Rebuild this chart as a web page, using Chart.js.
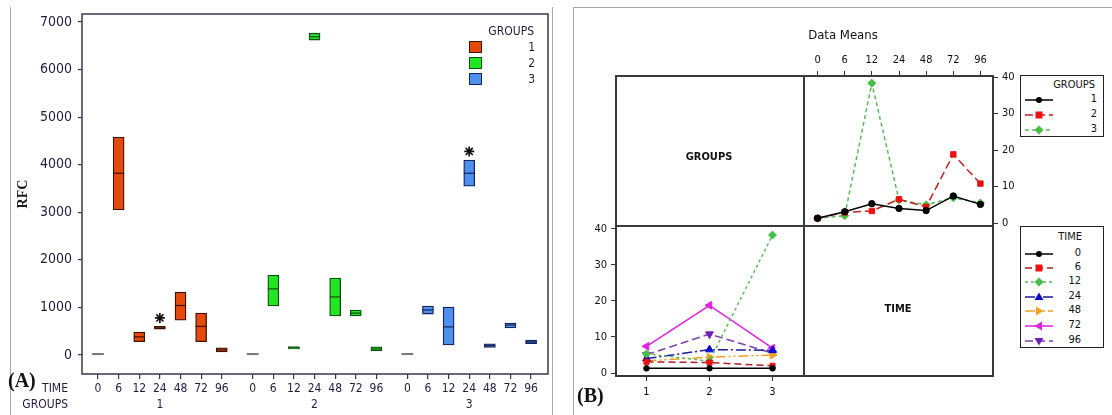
<!DOCTYPE html>
<html><head><meta charset="utf-8">
<script src="https://cdn.jsdelivr.net/npm/chart.js@4.4.1/dist/chart.umd.min.js"></script>
<style>
html,body{margin:0;padding:0;background:#fff;}
#wrap{position:relative;width:1112px;height:415px;overflow:hidden;background:#fff;}
canvas{position:absolute;}
.abs{position:absolute;white-space:nowrap;line-height:1;}
.ln{position:absolute;}
</style></head>
<body><div id="wrap">
<canvas id="cA" width="560" height="415" style="left:0;top:0"></canvas>
<canvas id="cB1" width="250" height="200" style="left:790px;top:40px"></canvas>
<canvas id="cB2" width="260" height="195" style="left:560px;top:215px"></canvas>
</div>
<script>
// ---------------- DATA ----------------
const timeLabels = ['0','6','12','24','48','72','96'];
const groupLabels = ['1','2','3'];
const rfcTicks = [0,1000,2000,3000,4000,5000,6000,7000];
const meansTicks = [0,10,20,30,40];

// Panel A: box statistics (RFC) per time, for each group
const q1G1  = [5, 3050, 280, 545, 730, 280, 65];
const medG1 = [20, 3820, 380, 570, 1040, 600, 105];
const q3G1  = [35, 4580, 480, 600, 1320, 880, 150];

const q1G2  = [5, 1030, 125, 6620, 820, 820, 84];
const medG2 = [20, 1390, 150, 6690, 1220, 880, 126];
const q3G2  = [35, 1680, 175, 6765, 1617, 945, 170];

const q1G3  = [5, 860, 210, 3550, 160, 567, 240];
const medG3 = [20, 945, 590, 3820, 195, 630, 275];
const q3G3  = [35, 1030, 1008, 4097, 235, 672, 315];

// outliers (asterisks)
const outlierGroup = ['1', '3'];
const outlierTime = ['24', '24'];
const outlierRFC = [778, 4278];

// Panel B: data means per time, for each group
const meansG1 = [1.3, 3.1, 5.3, 4.0, 3.4, 7.4, 5.1];
const meansG2 = [1.3, 2.9, 3.3, 6.5, 4.4, 18.8, 10.8];
const meansG3 = [1.3, 2.0, 38.3, 6.3, 5.0, 6.9, 5.5];

// ---------------- STYLE ----------------
const FONT = "'DejaVu Sans Condensed','DejaVu Sans',sans-serif";
const SERIF = "'Liberation Serif','DejaVu Serif',serif";
const INK_A = '#241c3c';
const FRAME_A = '#3d3550';
const wrap = document.getElementById('wrap');

function zeroPad(s){ s.paddingLeft = 0; s.paddingRight = 0; s.paddingTop = 0; s.paddingBottom = 0; }
function txt(s, x, y, align, font, color){
  const d = document.createElement('div');
  d.className = 'abs'; d.textContent = s;
  const tx = align === 'center' ? '-50%' : (align === 'right' ? '-100%' : '0');
  d.style.left = x + 'px'; d.style.top = y + 'px';
  d.style.transform = 'translate(' + tx + ',-50%)';
  d.style.font = font; d.style.color = color || '#222';
  wrap.appendChild(d); return d;
}
function box(x, y, w, h, css){
  const d = document.createElement('div');
  d.className = 'ln';
  d.style.cssText = 'left:' + x + 'px;top:' + y + 'px;width:' + w + 'px;height:' + h + 'px;' + (css || '');
  wrap.appendChild(d); return d;
}

// ---------------- PANEL A ----------------
const groupsA = [
  {q1:q1G1, med:medG1, q3:q3G1, fill:'#E6490C', edge:'#3e1204'},
  {q1:q1G2, med:medG2, q3:q3G2, fill:'#22E622', edge:'#114e11'},
  {q1:q1G3, med:medG3, q3:q3G3, fill:'#4F8FEF', edge:'#14245c'}
];
const GROUP_STEP = 7.5;
const xPos = (gi, ti) => ti + GROUP_STEP * gi;
const xTickPos = [];
groupLabels.forEach((g, gi) => timeLabels.forEach((t, ti) => xTickPos.push(xPos(gi, ti))));

const datasetsA = [];
groupsA.forEach((g, gi) => {
  datasetsA.push({
    type: 'bar',
    label: 'GROUPS ' + groupLabels[gi],
    data: timeLabels.map((t, ti) => ({x: xPos(gi, ti), y: [g.q1[ti], g.q3[ti]]})),
    backgroundColor: c => c.dataIndex === 0 ? '#7a7a7a' : g.fill,
    borderColor: c => c.dataIndex === 0 ? '#7a7a7a' : g.edge,
    borderWidth: c => c.dataIndex === 0 ? 0 : 1.3,
    borderSkipped: false,
    barThickness: 11,
    grouped: false,
    order: 3
  });
  datasetsA.push({
    type: 'scatter',
    label: 'median ' + groupLabels[gi],
    data: timeLabels.map((t, ti) => ({x: xPos(gi, ti), y: g.med[ti]})),
    pointStyle: 'line',
    pointRadius: c => c.dataIndex === 0 ? 0 : 5.5,
    pointHoverRadius: 0,
    borderColor: g.edge,
    pointBorderColor: g.edge,
    pointBorderWidth: 1.2,
    order: 2
  });
});
datasetsA.push({
  type: 'scatter',
  label: 'outliers',
  data: outlierRFC.map((v, i) => ({x: xPos(groupLabels.indexOf(outlierGroup[i]), timeLabels.indexOf(outlierTime[i])), y: v})),
  pointStyle: 'star',
  pointRadius: 5,
  pointBorderColor: '#111',
  pointBorderWidth: 1.7,
  order: 1
});

const frameA = {
  id: 'frameA',
  afterDraw(c){
    const {ctx, chartArea: a} = c;
    ctx.save(); ctx.strokeStyle = FRAME_A; ctx.lineWidth = 1.5;
    ctx.strokeRect(a.left, a.top, a.right - a.left, a.bottom - a.top);
    ctx.restore();
  }
};

const chartA = new Chart(document.getElementById('cA'), {
  type: 'bar',
  data: {datasets: datasetsA},
  options: {
    responsive: false, animation: false, events: [],
    layout: {padding: {left: 10, top: 14, right: 12, bottom: 0}},
    plugins: {legend: {display: false}, tooltip: {enabled: false}},
    scales: {
      x: {
        type: 'linear', min: -0.776, max: 21.82, offset: false,
        afterBuildTicks: s => { s.ticks = xTickPos.map(v => ({value: v})); },
        afterFit: s => { s.height = 41; zeroPad(s); },
        grid: {drawOnChartArea: false, drawTicks: true, tickLength: 5, color: FRAME_A, lineWidth: 1.2, offset: false},
        border: {display: false},
        ticks: {autoSkip: false, maxRotation: 0, padding: 3, color: INK_A,
                font: {family: FONT, size: 12},
                callback: (v, i) => timeLabels[i % timeLabels.length]}
      },
      y: {
        type: 'linear', min: -400, max: 7168,
        afterBuildTicks: s => { s.ticks = rfcTicks.map(v => ({value: v})); },
        afterFit: s => { s.width = 72; zeroPad(s); },
        grid: {drawOnChartArea: false, drawTicks: true, tickLength: 4, color: FRAME_A, lineWidth: 1.2},
        border: {display: false},
        title: {display: true, text: 'RFC', color: '#1a1a1a', padding: {top: 5, bottom: 0},
                font: {family: SERIF, size: 14, weight: 'bold'}},
        ticks: {padding: 6, color: INK_A, font: {family: FONT, size: 14},
                callback: v => String(v)}
      }
    }
  },
  plugins: [frameA]
});

// ---------------- PANEL B ----------------
const groupSeries = [
  {data: meansG1, line: '#000000', mark: '#000000', dash: [], style: 'circle', rot: 0, r: 3.2},
  {data: meansG2, line: '#c02020', mark: '#ee1010', dash: [8, 4], style: 'rect', rot: 0, r: 3.8},
  {data: meansG3, line: '#5cb85c', mark: '#45c045', dash: [4, 3], style: 'rectRot', rot: 0, r: 4}
];
const timeSeries = [
  {line: '#000000', mark: '#000000', dash: [], style: 'circle', rot: 0, r: 2.8},
  {line: '#b02020', mark: '#ee1010', dash: [7, 4], style: 'rect', rot: 0, r: 3.6},
  {line: '#5cb85c', mark: '#45c045', dash: [3, 3], style: 'rectRot', rot: 0, r: 4},
  {line: '#1a1a9a', mark: '#0a0ad0', dash: [10, 3, 2, 3], style: 'triangle', rot: 0, r: 4.5},
  {line: '#f0a020', mark: '#f0a020', dash: [10, 3, 2, 3, 2, 3], style: 'triangle', rot: 90, r: 4.5},
  {line: '#e020e0', mark: '#e020e0', dash: [], style: 'triangle', rot: -90, r: 4.5},
  {line: '#8040b0', mark: '#7020b0', dash: [8, 4], style: 'triangle', rot: 180, r: 4.5}
];
const allMeans = [meansG1, meansG2, meansG3];

function lineDs(label, data, s){
  return {label, data, borderColor: s.line, borderWidth: 1.5, borderDash: s.dash, tension: 0,
          pointStyle: s.style, pointRotation: s.rot, pointRadius: s.r, pointHoverRadius: s.r,
          pointBackgroundColor: s.mark, pointBorderColor: s.mark, pointBorderWidth: 1, fill: false};
}
const tickFontB = {family: FONT, size: 11};
const INK_B = '#111';

new Chart(document.getElementById('cB1'), {
  type: 'line',
  data: {labels: timeLabels,
         datasets: groupSeries.map((s, gi) => lineDs(groupLabels[gi], s.data, s))},
  options: {
    responsive: false, animation: false, events: [],
    layout: {padding: {left: 14, top: 10, right: 16, bottom: 14}},
    plugins: {legend: {display: false}, tooltip: {enabled: false}},
    scales: {
      x: {type: 'category', position: 'top', offset: true,
          afterFit: s => { s.height = 25; zeroPad(s); },
          grid: {drawOnChartArea: false, tickLength: 4, color: '#333', offset: false},
          border: {display: false},
          ticks: {autoSkip: false, maxRotation: 0, padding: 4, color: INK_B, font: tickFontB}},
      y: {type: 'linear', position: 'right', min: -0.82, max: 40.55,
          afterBuildTicks: s => { s.ticks = meansTicks.map(v => ({value: v})); },
          afterFit: s => { s.width = 30; zeroPad(s); },
          grid: {drawOnChartArea: false, tickLength: 4, color: '#333'},
          border: {display: false},
          ticks: {padding: 4, color: INK_B, font: tickFontB}}
    }
  }
});

new Chart(document.getElementById('cB2'), {
  type: 'line',
  data: {labels: groupLabels,
         datasets: timeSeries.map((s, ti) => lineDs(timeLabels[ti], allMeans.map(m => m[ti]), s))},
  options: {
    responsive: false, animation: false, events: [],
    layout: {padding: {left: 15, top: 11, right: 16, bottom: 3}},
    plugins: {legend: {display: false}, tooltip: {enabled: false}},
    scales: {
      x: {type: 'category', position: 'bottom', offset: true,
          afterFit: s => { s.height = 30; zeroPad(s); },
          grid: {drawOnChartArea: false, tickLength: 4, color: '#333', offset: false},
          border: {display: false},
          ticks: {autoSkip: false, maxRotation: 0, padding: 5, color: INK_B, font: tickFontB}},
      y: {type: 'linear', position: 'left', min: -1.11, max: 40.83,
          afterBuildTicks: s => { s.ticks = meansTicks.map(v => ({value: v})); },
          afterFit: s => { s.width = 40; zeroPad(s); },
          grid: {drawOnChartArea: false, tickLength: 4, color: '#333'},
          border: {display: false},
          ticks: {padding: 4, color: INK_B, font: tickFontB}}
    }
  }
});

// ---------------- DECORATION / TEXT ----------------
// panel borders
box(10, 7, 1, 408, 'background:#a8a8a8');
box(552, 7, 1, 408, 'background:#a8a8a8');
box(573, 7, 1, 408, 'background:#a8a8a8');
box(573, 7, 539, 1, 'background:#a8a8a8');

// panel A labels
txt('(A)', 8, 380, 'left', 'bold 20px ' + SERIF, '#111');
txt('TIME', 68, 388, 'right', '12px ' + FONT, INK_A);
txt('GROUPS', 68, 404, 'right', '12px ' + FONT, INK_A);
groupLabels.forEach((g, gi) => {
  const px = chartA.scales.x.getPixelForValue(xPos(gi, 3));
  txt(g, px, 404, 'center', '12px ' + FONT, INK_A);
});
// panel A legend
txt('GROUPS', 534, 31, 'right', '12px ' + FONT, INK_A);
groupsA.forEach((g, gi) => {
  const top = [41, 57, 73][gi];
  box(469, top, 13, 12, 'box-sizing:border-box;background:' + g.fill + ';border:1.5px solid ' + g.edge);
  txt(groupLabels[gi], 535, top + 6, 'right', '12px ' + FONT, INK_A);
});

// panel B matrix frame
box(615, 75, 379, 302, 'box-sizing:border-box;border:2px solid #3a3a3a');
box(803, 75, 2, 302, 'background:#3a3a3a');
box(615, 225, 379, 2, 'background:#3a3a3a');
txt('Data Means', 843, 34, 'center', '13px ' + FONT, '#111');
txt('GROUPS', 709, 156, 'center', 'bold 11px ' + FONT, '#111');
txt('TIME', 898, 308, 'center', 'bold 11px ' + FONT, '#111');
txt('(B)', 577, 395, 'left', 'bold 20px ' + SERIF, '#111');

// legend samples
function markerSvg(style, rot, cx, cy, col){
  if (style === 'circle') return '<circle cx="' + cx + '" cy="' + cy + '" r="3" fill="' + col + '"/>';
  if (style === 'rect') return '<rect x="' + (cx - 3.5) + '" y="' + (cy - 3.5) + '" width="7" height="7" fill="' + col + '"/>';
  if (style === 'rectRot') return '<polygon points="' + cx + ',' + (cy - 4.5) + ' ' + (cx + 4.5) + ',' + cy + ' ' + cx + ',' + (cy + 4.5) + ' ' + (cx - 4.5) + ',' + cy + '" fill="' + col + '"/>';
  return '<polygon transform="rotate(' + rot + ' ' + cx + ' ' + cy + ')" points="' + cx + ',' + (cy - 4.5) + ' ' + (cx + 4.5) + ',' + (cy + 3) + ' ' + (cx - 4.5) + ',' + (cy + 3) + '" fill="' + col + '"/>';
}
function legendBox(x, y, w, h, title, titleRight, titleY, entries, labels, rows, labelRight){
  box(x, y, w, h, 'box-sizing:border-box;border:1.5px solid #222;background:#fff');
  txt(title, x + titleRight, y + titleY, 'right', '11px ' + FONT, '#111');
  entries.forEach((s, i) => {
    const cy = y + rows[i];
    const d = document.createElement('div');
    d.className = 'ln';
    d.style.cssText = 'left:' + (x + 5) + 'px;top:' + (cy - 6) + 'px;width:28px;height:12px;';
    d.innerHTML = '<svg width="28" height="12" xmlns="http://www.w3.org/2000/svg"><line x1="0" y1="6" x2="28" y2="6" stroke="' + s.line +
      '" stroke-width="1.5" stroke-dasharray="' + (s.dash.length ? s.dash.join(',') : 'none') + '"/>' + markerSvg(s.style, s.rot, 14, 6, s.mark) + '</svg>';
    wrap.appendChild(d);
    txt(labels[i], x + labelRight, cy, 'right', '11px ' + FONT, '#111');
  });
}
legendBox(1020, 75, 84, 62, 'GROUPS', 75, 9, groupSeries, groupLabels, [23, 38, 53], 77);
legendBox(1020, 226, 84, 122, 'TIME', 62, 10, timeSeries, timeLabels, [26, 40, 54, 69, 83, 98, 113], 61);
</script>
</body></html>
